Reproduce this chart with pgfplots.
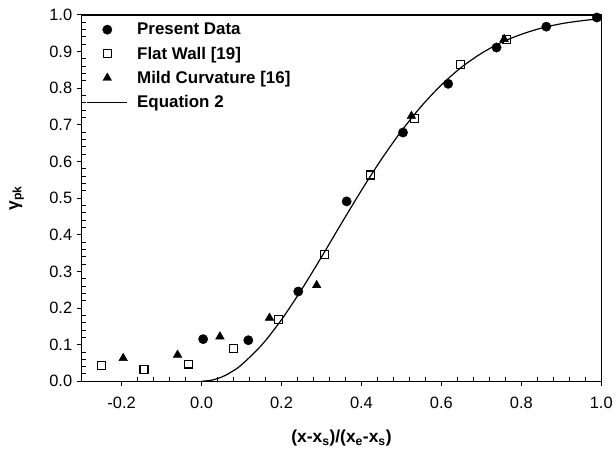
\documentclass[border=0pt]{standalone}
\usepackage{fontspec}
\setmainfont{Liberation Sans}
\usepackage{pgfplots}
\pgfplotsset{compat=1.18}
\pgfplotsset{
  markleg/.style={legend image code/.code={\path[draw=none,fill=none] (0pt,0pt) -- (48pt,0pt); \draw[##1] plot coordinates {(20pt,0pt)};}},
  lineleg/.style={legend image code/.code={\path[draw=none,fill=none] (0pt,0pt) -- (48pt,0pt); \draw[##1] (0pt,0pt) -- (40pt,0pt);}},
}
\begin{document}
\begin{tikzpicture}
\path (-82pt,-71pt) rectangle (534pt,383pt);
\begin{axis}[
  at={(0,0)}, anchor=south west,
  scale only axis, width=522pt, height=368pt,
  xmin=-0.3, xmax=1.0, ymin=0, ymax=1.0,
  xtick={-0.2,0,0.2,0.4,0.6,0.8,1.0},
  ytick={0,0.1,...,1.0},
  minor x tick num=4, minor y tick num=4,
  xtick pos=left, ytick pos=left,
  tick align=outside,
  major tick length=5pt, minor tick length=-4pt,
  axis line style={line width=1.2pt},
  every tick/.style={line width=0.9pt, black},
  /pgf/number format/assume math mode=true,
  /pgf/number format/fixed, /pgf/number format/fixed zerofill, /pgf/number format/precision=1,
  tick label style={font=\fontsize{16.5}{18}\selectfont},
  xticklabel style={yshift=-7pt},
  yticklabel style={xshift=-1pt},
  xlabel={\textbf{(x-x\textsubscript{s})/(x\textsubscript{e}-x\textsubscript{s})}},
  ylabel={\textbf{γ\textsubscript{pk}}},
  every axis x label/.style={at={(axis description cs:0.5,-0.155)}, anchor=center, font=\fontsize{17.5}{19}\selectfont},
  every axis y label/.style={at={(axis description cs:-0.125,0.5)}, anchor=center, rotate=90, font=\fontsize{17.5}{19}\selectfont},
  legend cell align=left,
  legend style={at={(0,1)}, anchor=north west, draw=none, fill=none,
    font=\bfseries\fontsize{17}{19}\selectfont, row sep=6.6pt, xshift=2pt, yshift=-4pt},
]
\addplot[only marks, mark=*, mark size=4.7pt, black, markleg]
coordinates {
(0.004,0.115) (0.117,0.112) (0.242,0.245) (0.363,0.491) (0.504,0.679)
(0.617,0.812) (0.738,0.911) (0.8625,0.968) (0.989,0.993)
};
\addlegendentry{Present Data}
\addplot[only marks, mark=square, mark size=4pt, black, mark options={line width=1.1pt}, markleg]
coordinates {
(-0.25,0.042) (-0.144,0.031) (-0.032,0.047) (0.079,0.090) (0.192,0.169)
(0.308,0.345) (0.422,0.563) (0.533,0.717) (0.6475,0.864) (0.764,0.934)
};
\addlegendentry{Flat Wall [19]}
\addplot[only marks, mark=triangle*, mark size=5pt, black, markleg]
coordinates {
(-0.196,0.063) (-0.06,0.072) (0.046,0.122) (0.170,0.173) (0.288,0.262)
(0.525,0.724) (0.757,0.934)
};
\addlegendentry{Mild Curvature [16]}
\addplot[black, line width=1.2pt, smooth, lineleg]
coordinates {
(0.0,0.0) (0.025,0.0029) (0.05,0.0114) (0.075,0.0256) (0.1,0.045) (0.15,0.0983)
(0.2,0.168) (0.25,0.250) (0.3,0.339) (0.35,0.431) (0.4,0.521)
(0.45,0.606) (0.5,0.683) (0.55,0.751) (0.6,0.809) (0.65,0.857)
(0.7,0.895) (0.75,0.925) (0.8,0.947) (0.85,0.964) (0.9,0.976)
(0.95,0.984) (1.0,0.990)
};
\addlegendentry{Equation 2}
\end{axis}
\end{tikzpicture}
\end{document}
